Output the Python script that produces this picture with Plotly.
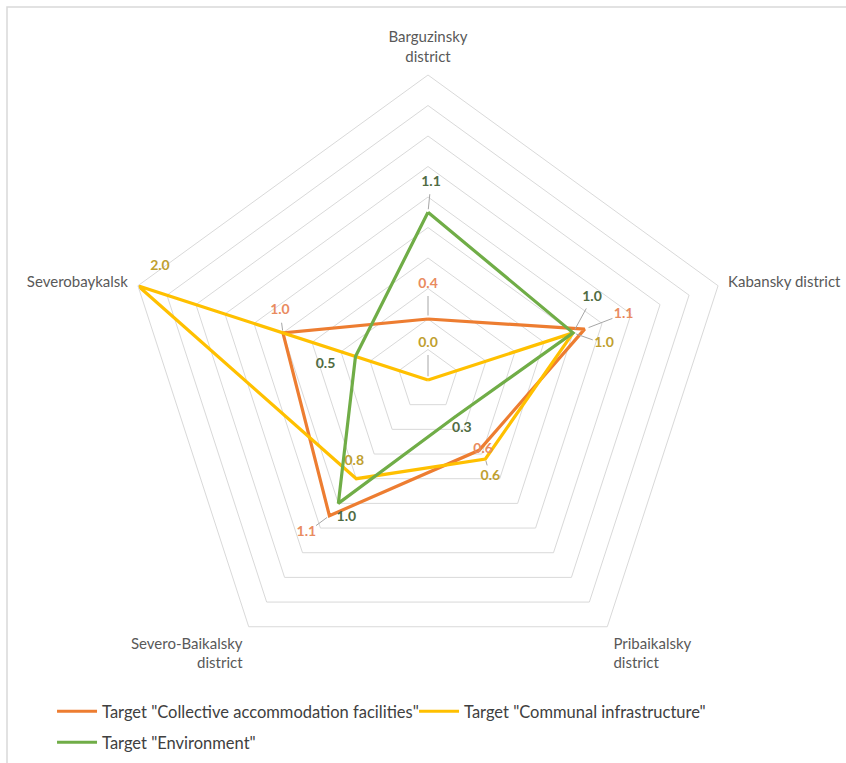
import math
import plotly.graph_objects as go

# ---- data ----
districts = ["Barguzinsky<br>district", "Kabansky district", "Pribaikalsky<br>district",
             "Severo-Baikalsky<br>district", "Severobaykalsk"]
series_names = ['Target "Collective accommodation facilities"',
                'Target "Communal infrastructure"',
                'Target "Environment"']
accommodation = [0.4, 1.08, 0.57, 1.1, 1.0]
communal = [0.0, 1.0, 0.64, 0.8, 2.0]
environment = [1.1, 1.0, 0.3, 1.0, 0.5]
radial_max = 2.0
radial_step = 0.2

# ---- style ----
line_colors = ["#ED7D31", "#FFC000", "#70AD47"]
label_colors = ["#E98B5F", "#BFA02F", "#4F6B42"]
FONT = "Lato"

# label pixel offsets (dx right, dy down) per series per category
label_offsets = [
    [(0, -35), (39, -15), (4, -1), (-23, 17), (-3, -22)],
    [(0, -37), (31, 11), (5, 18), (-2, -17), (22, -19)],
    [(3, -30), (19, -35), (7, 11), (8, 14), (-30, 8)],
]
leader_flags = [
    [1, 1, 0, 1, 1],
    [1, 1, 1, 0, 0],
    [1, 1, 0, 0, 0],
]

W, H = 846, 763
cx, cy, R = 428, 380, 305
dom_x = [(cx - R) / W, (cx + R) / W]
dom_y = [(H - cy - R) / H, (H - cy + R) / H]
px_per_unit = R / radial_max

thetas = [i * 360 / len(districts) for i in range(len(districts))]

fig = go.Figure()
all_series = [accommodation, communal, environment]


def to_label_polar(val, th, dx, dy):
    a = math.radians(th)
    x = val * px_per_unit * math.sin(a) + dx
    y = -val * px_per_unit * math.cos(a) + dy
    r = math.hypot(x, y) / px_per_unit
    t = math.degrees(math.atan2(x, -y)) % 360
    return r, t


# leader lines (beneath everything)
for vals, offs, flags in zip(all_series, label_offsets, leader_flags):
    for v, th, (dx, dy), f in zip(vals, thetas, offs, flags):
        if not f:
            continue
        L = math.hypot(dx, dy)
        k = max(L - 12, 4) / L
        r1, t1 = to_label_polar(v, th, dx * 0.1, dy * 0.1)
        r2, t2 = to_label_polar(v, th, dx * k, dy * k)
        fig.add_trace(go.Scatterpolar(
            r=[r1, r2], theta=[t1, t2], mode="lines",
            line=dict(color="#A6A6A6", width=1),
            showlegend=False, hoverinfo="skip", subplot="polar2"))

for i, (vals, name, col) in enumerate(zip(all_series, series_names, line_colors)):
    fig.add_trace(go.Scatterpolar(
        r=vals + [vals[0]], theta=districts + [districts[0]],
        mode="lines", name=name,
        line=dict(color=col, width=3.2),
        legend="legend" if i < 2 else "legend2",
        subplot="polar"))

# data labels on an overlaid numeric polar subplot
for vals, col, offs in zip(all_series, label_colors, label_offsets):
    rs, ts = [], []
    for v, th, (dx, dy) in zip(vals, thetas, offs):
        r, t = to_label_polar(v, th, dx, dy)
        rs.append(r)
        ts.append(t)
    fig.add_trace(go.Scatterpolar(
        r=rs, theta=ts, mode="text",
        text=[f"{v:.1f}" for v in vals],
        textfont=dict(family=FONT, size=14, color=col, weight="bold"),
        showlegend=False, hoverinfo="skip", cliponaxis=False,
        subplot="polar2"))

fig.update_layout(
    width=W, height=H,
    margin=dict(l=0, r=0, t=0, b=0),
    paper_bgcolor="white",
    polar=dict(
        domain=dict(x=dom_x, y=dom_y),
        bgcolor="rgba(0,0,0,0)",
        gridshape="linear",
        radialaxis=dict(range=[0, radial_max], dtick=radial_step, showticklabels=False,
                        ticks="", showline=False, gridcolor="#D9D9D9", gridwidth=1),
        angularaxis=dict(type="category", rotation=90, direction="clockwise",
                         showgrid=False, linecolor="#D9D9D9", linewidth=1,
                         ticks="outside", ticklen=7, tickcolor="rgba(0,0,0,0)",
                         tickfont=dict(family=FONT, size=15, color="#595959")),
    ),
    polar2=dict(
        domain=dict(x=dom_x, y=dom_y),
        bgcolor="rgba(0,0,0,0)",
        radialaxis=dict(range=[0, radial_max], visible=False),
        angularaxis=dict(type="linear", rotation=90, direction="clockwise", visible=False),
    ),
    legend=dict(orientation="h", x=0.0615, y=(H - 694) / H, yanchor="top", xanchor="left",
                font=dict(family=FONT, size=16.5, color="#404040"),
                entrywidth=307, entrywidthmode="pixels", itemwidth=40),
    legend2=dict(orientation="h", x=0.0615, y=(H - 725) / H, yanchor="top", xanchor="left",
                 font=dict(family=FONT, size=16.5, color="#404040"), itemwidth=40),
    shapes=[dict(type="rect", xref="paper", yref="paper",
                 x0=7 / W, x1=1.2, y0=-0.2, y1=(H - 7) / H,
                 line=dict(color="#D9D9D9", width=1.5), layer="below")],
)

fig.write_html("out.html", config={"displayModeBar": False},
               post_script="document.body.style.margin='0';")
